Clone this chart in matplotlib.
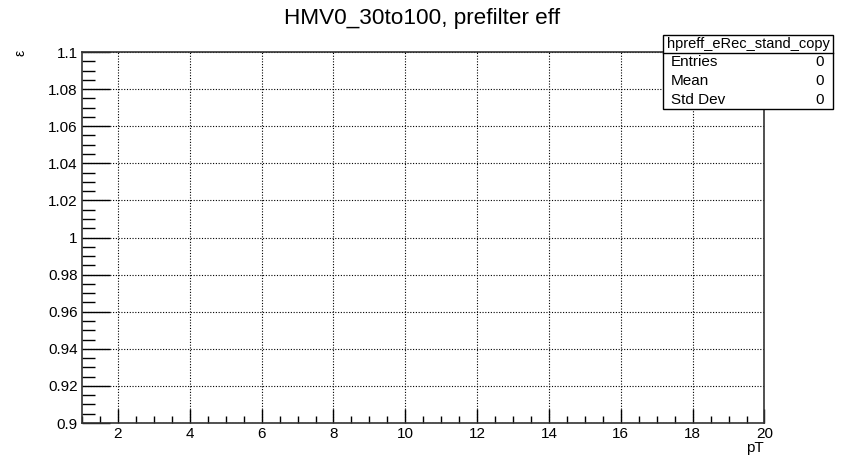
"""Empty efficiency histogram in ROOT canvas style"""
import matplotlib.pyplot as plt
from matplotlib.ticker import MultipleLocator

plt.rcParams['font.family'] = ['Liberation Sans', 'DejaVu Sans']

title = "HMV0_30to100, prefilter eff"
hist_name = "hpreff_eRec_stand_copy"
stat_names = ["Entries", "Mean", "Std Dev"]
stat_values = [0, 0, 0]
x_range = [1, 20]
y_range = [0.9, 1.1]


def plot():
    """draw the empty frame with grid and stats box"""
    fig = plt.figure(figsize=(8.44, 4.59), dpi=100)
    ax = fig.add_axes([0.0972, 0.0784, 0.8086, 0.8083])
    ax.set_xlim(x_range)
    ax.set_ylim(y_range)

    ax.xaxis.set_major_locator(MultipleLocator(2))
    ax.xaxis.set_minor_locator(MultipleLocator(0.5))
    ax.yaxis.set_major_locator(MultipleLocator(0.02))
    ax.yaxis.set_minor_locator(MultipleLocator(0.005))
    ax.yaxis.set_major_formatter(plt.FuncFormatter(lambda v, p: f"{v:.2f}".rstrip('0').rstrip('.')))

    ax.tick_params(axis='x', which='major', direction='in', length=10, width=1, labelsize=11, pad=3)
    ax.tick_params(axis='x', which='minor', direction='in', length=5, width=1)
    ax.tick_params(axis='y', which='major', direction='in', length=20, width=1, labelsize=11, pad=3)
    ax.tick_params(axis='y', which='minor', direction='in', length=9.5, width=1)
    for side in ax.spines.values():
        side.set_linewidth(1.2)
        side.set_color('#333333')

    ax.grid(True, which='major', linestyle=(0, (1, 1.5)), color='black', linewidth=0.8)

    fig.text(0.5, 0.96, title, ha='center', va='center', fontsize=16.2)
    fig.text(0.024, 0.885, "ε", rotation=90, ha='center', va='center', fontsize=10)
    fig.text(0.895, 0.023, "pT", ha='center', va='center', fontsize=11)

    # stats box
    bx0, bx1 = 663 / 844, 833 / 844
    by0, by1 = 1 - 109 / 459, 1 - 35 / 459
    bsep = 1 - 53 / 459
    fig.patches.append(plt.Rectangle((bx0, by0), bx1 - bx0, by1 - by0, transform=fig.transFigure,
                                     facecolor='white', edgecolor='black', linewidth=1, zorder=5))
    fig.lines.append(plt.Line2D([bx0, bx1], [bsep, bsep], transform=fig.transFigure,
                                color='black', linewidth=1, zorder=6))
    fig.text((bx0 + bx1) / 2, (by1 + bsep) / 2, hist_name, ha='center', va='center', fontsize=10.5, zorder=7)
    row_h = (bsep - by0) / len(stat_names)
    for i, (name, val) in enumerate(zip(stat_names, stat_values)):
        yc = bsep - row_h * (i + 0.5)
        fig.text(bx0 + 0.0095, yc, name, ha='left', va='center', fontsize=11, zorder=7)
        fig.text(bx1 - 0.011, yc, str(val), ha='right', va='center', fontsize=11, zorder=7)

    fig.savefig('out.png', dpi=100)


plot()
